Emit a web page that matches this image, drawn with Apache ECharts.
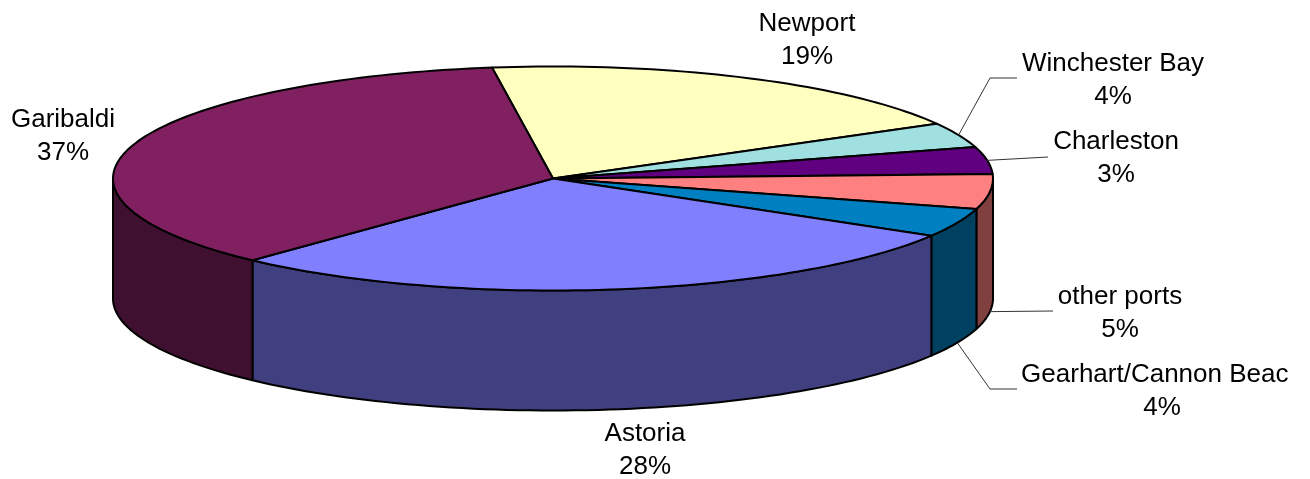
<!DOCTYPE html>
<html>
<head>
<meta charset="utf-8">
<title>Landings by port</title>
<script src="https://cdn.jsdelivr.net/npm/echarts@6/dist/echarts.min.js"></script>
<style>
  html, body { margin: 0; padding: 0; background: #fff; }
  #chart { width: 1310px; height: 479px; }
</style>
</head>
<body>
<div id="chart"></div>
<script>
  // 数据: shares are measured from the drawn slices, percentLabels are the printed texts
  // (the tilted pie of the original does not draw its slices exactly to the printed numbers)
  const ports = ['Newport', 'Winchester Bay', 'Charleston', 'other ports', 'Gearhart/Cannon Beach', 'Astoria', 'Garibaldi']
  const shares = [19.07, 3.61, 3.89, 5.03, 4.14, 28.44, 35.82]
  const percentLabels = ['19%', '4%', '3%', '5%', '4%', '28%', '37%']
  const topColors = ['#FFFFC0', '#A0E0E0', '#600080', '#FF8080', '#0080C0', '#8080FF', '#802060']
  const wallColors = ['#808060', '#507070', '#300040', '#804040', '#004060', '#404080', '#401030']

  // pie layout
  const cx = 553, cy = 178.5, rx = 440, ry = 112, depth = 120
  const startDeg = -7.97

  // label layout: centre of the two text lines
  const labelPos = [[807, 40], [1113, 80], [1116, 158], [1120, 313], [1162, 391], [645, 450], [63, 136]]
  // leader lines: rim anchor comes from the slice, then these points
  const leaderPts = [null, [[990, 78], [1017, 78]], [[1048, 157]], [[1053, 311]], [[990, 389], [1017, 389]], null, null]
  const leaderOnWall = [false, false, false, true, true, false, false]

  const total = shares.reduce((a, b) => a + b, 0)
  let acc = startDeg
  const ranges = shares.map(v => {
    const a = acc
    acc += v / total * 360
    return [a, acc]
  })

  function rimPoint(deg, drop) {
    const t = deg * Math.PI / 180
    return [cx + rx * Math.sin(t), cy - ry * Math.cos(t) + drop]
  }

  function rimArc(a, b, drop) {
    const pts = []
    const n = Math.max(2, Math.ceil(Math.abs(b - a) / 1.5))
    for (let i = 0; i <= n; i++) {
      pts.push(rimPoint(a + (b - a) * i / n, drop))
    }
    return pts
  }

  const edgeStyle = { stroke: '#000', lineWidth: 2, lineJoin: 'round' }

  function renderWall(params) {
    const i = params.dataIndex
    const a = Math.max(ranges[i][0], 90)
    const b = Math.min(ranges[i][1], 270)
    if (a >= b) return null
    const points = rimArc(a, b, 0).concat(rimArc(b, a, depth))
    return { type: 'polygon', shape: { points: points }, style: { fill: wallColors[i], ...edgeStyle } }
  }

  function renderTop(params) {
    const i = params.dataIndex
    const points = [[cx, cy]].concat(rimArc(ranges[i][0], ranges[i][1], 0))
    return { type: 'polygon', shape: { points: points }, style: { fill: topColors[i], ...edgeStyle } }
  }

  function renderLabel(params) {
    const i = params.dataIndex
    const children = [{
      type: 'text',
      // the picture cuts the long label at its right edge
      clipPath: { type: 'rect', shape: { x: 0, y: 0, width: 1290, height: 479 } },
      style: {
        text: ports[i] + '\n' + percentLabels[i],
        x: labelPos[i][0],
        y: labelPos[i][1],
        align: 'center',
        verticalAlign: 'middle',
        fontFamily: 'Liberation Sans',
        fontSize: 26,
        lineHeight: 33,
        fill: '#000'
      }
    }]
    if (leaderPts[i]) {
      const mid = (ranges[i][0] + ranges[i][1]) / 2
      const anchor = rimPoint(mid, leaderOnWall[i] ? depth : 0)
      children.push({
        type: 'polyline',
        shape: { points: [anchor].concat(leaderPts[i]) },
        style: { fill: null, stroke: '#333', lineWidth: 1 }
      })
    }
    return { type: 'group', children: children }
  }

  const myChart = echarts.init(document.getElementById('chart'))
  const seriesBase = { type: 'custom', coordinateSystem: 'none', data: shares, silent: true, animation: false }
  myChart.setOption({
    backgroundColor: '#fff',
    series: [
      { ...seriesBase, name: 'walls', renderItem: renderWall, z: 1 },
      { ...seriesBase, name: 'tops', renderItem: renderTop, z: 2 },
      { ...seriesBase, name: 'labels', renderItem: renderLabel, z: 3 }
    ]
  })
</script>
</body>
</html>
